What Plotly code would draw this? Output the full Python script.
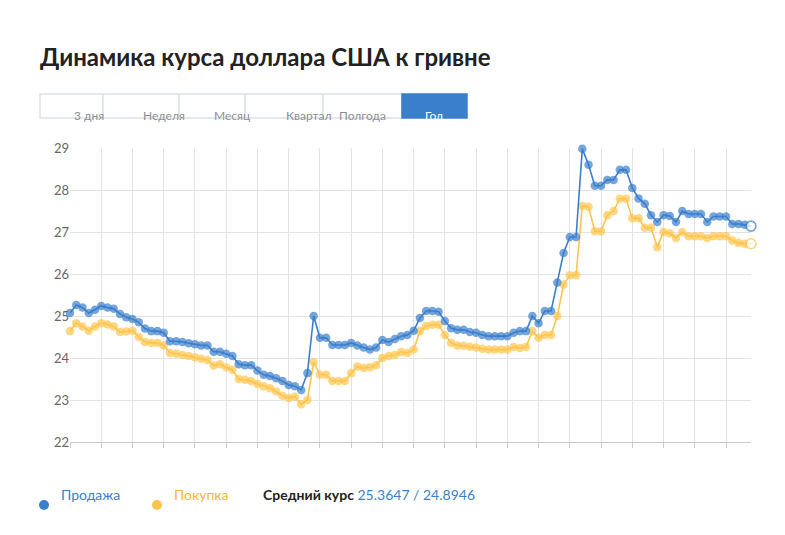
import plotly.graph_objects as go

sale = [25.07,25.26,25.2,25.07,25.15,25.24,25.2,25.17,25.05,24.97,
        24.93,24.85,24.7,24.64,24.64,24.6,24.4,24.4,24.38,24.35,
        24.33,24.3,24.3,24.15,24.15,24.1,24.05,23.85,23.83,23.83,
        23.7,23.6,23.57,23.52,23.45,23.36,23.33,23.24,23.64,25.0,
        24.48,24.48,24.31,24.31,24.31,24.36,24.3,24.25,24.2,24.25,
        24.43,24.38,24.45,24.52,24.55,24.65,24.95,25.12,25.12,25.1,
        24.88,24.71,24.67,24.67,24.62,24.6,24.55,24.52,24.52,24.52,
        24.52,24.6,24.64,24.64,25.0,24.83,25.12,25.12,25.8,26.5,
        26.88,26.88,28.98,28.6,28.1,28.1,28.24,28.24,28.48,28.48,
        28.05,27.8,27.67,27.4,27.24,27.4,27.38,27.24,27.5,27.43,
        27.43,27.43,27.24,27.37,27.37,27.37,27.19,27.19,27.17,27.14]
buy = [24.64,24.83,24.75,24.65,24.75,24.83,24.8,24.75,24.62,24.63,
       24.65,24.5,24.38,24.36,24.36,24.3,24.12,24.1,24.07,24.05,
       24.02,23.98,23.95,23.82,23.85,23.78,23.72,23.5,23.48,23.45,
       23.38,23.33,23.28,23.2,23.1,23.05,23.08,22.9,23.0,23.9,
       23.6,23.6,23.45,23.45,23.45,23.64,23.8,23.76,23.78,23.83,
       24.0,24.05,24.07,24.14,24.12,24.2,24.64,24.76,24.79,24.79,
       24.55,24.36,24.3,24.29,24.27,24.25,24.22,24.2,24.2,24.2,
       24.2,24.26,24.24,24.26,24.64,24.48,24.55,24.55,25.0,25.75,
       25.97,25.97,27.62,27.6,27.02,27.02,27.4,27.5,27.79,27.79,
       27.33,27.33,27.1,27.1,26.64,27.0,26.97,26.86,27.0,26.9,
       26.9,26.9,26.86,26.9,26.9,26.9,26.8,26.74,26.72,26.72]
x = list(range(len(sale)))
periods = ["3 дня", "Неделя", "Месяц", "Квартал", "Полгода", "Год"]
y_ticks = [22, 23, 24, 25, 26, 27, 28, 29]
avg_text = "25.3647 / 24.8946"

BLUE = "#3A7FCC"
YEL = "#FFC44D"
FONT = "Lato, Open Sans, sans-serif"

fig = go.Figure()
for vals, col, name in [(buy, YEL, "Покупка"), (sale, BLUE, "Продажа")]:
    n = len(vals)
    fig.add_trace(go.Scatter(
        x=x, y=vals, mode="lines+markers", name=name, cliponaxis=False,
        line=dict(color=col, width=1.6),
        marker=dict(size=[8.5] * (n - 1) + [10], color=[col] * (n - 1) + ["white"],
                    line=dict(color=col, width=[0] * (n - 1) + [1.6])),
        showlegend=False))

L, R, T, B = 62, 743, 140, 434
W, H = R - L, B - T
def px(v): return (v - L) / W
def py(v): return (B - v) / H

shapes, ann = [], []
edges = [32, 95, 171, 237, 315, 394, 459]
for i, p in enumerate(periods):
    active = p == "Год"
    shapes.append(dict(type="rect", xref="paper", yref="paper",
                       x0=px(edges[i]), x1=px(edges[i + 1]), y0=py(110), y1=py(86),
                       fillcolor=BLUE if active else "white",
                       line=dict(color=BLUE if active else "#DDE1E6", width=1.5)))
    ann.append(dict(xref="paper", yref="paper", x=px((edges[i] + edges[i + 1]) / 2), y=py(98),
                    text=p, showarrow=False,
                    font=dict(family=FONT, size=12, color="white" if active else "#8A8F96")))

ann.append(dict(xref="paper", yref="paper", x=px(30), y=py(32), xanchor="left",
                text="<b>Динамика курса доллара США к гривне</b>", showarrow=False,
                font=dict(family=FONT, size=24, color="#222222")))
for cx, col, txt, tcol in [(36, BLUE, "Продажа", BLUE), (149, YEL, "Покупка", "#F5B53B")]:
    shapes.append(dict(type="circle", xref="paper", yref="paper",
                       x0=px(cx - 5), x1=px(cx + 5), y0=py(502), y1=py(492),
                       fillcolor=col, line=dict(width=0)))
    ann.append(dict(xref="paper", yref="paper", x=px(cx + 15), y=py(497), xanchor="left",
                    text=txt, showarrow=False, font=dict(family=FONT, size=14, color=tcol)))
ann.append(dict(xref="paper", yref="paper", x=px(253), y=py(497), xanchor="left",
                text="<b>Средний курс</b> <span style='color:%s'>%s</span>" % (BLUE, avg_text),
                showarrow=False, font=dict(family=FONT, size=14, color="#222222")))

fig.update_layout(
    width=785, height=535, paper_bgcolor="white", plot_bgcolor="white",
    margin=dict(l=L, r=785 - R, t=T, b=535 - B, autoexpand=False),
    shapes=shapes, annotations=ann,
    xaxis=dict(range=[0, len(sale) - 1], tick0=0, dtick=5, showticklabels=False,
               showgrid=True, gridcolor="#E3E3E3", gridwidth=1, zeroline=False,
               ticks="outside", ticklen=5, tickcolor="#CCCCCC",
               showline=True, linecolor="#CCCCCC", linewidth=1),
    yaxis=dict(range=[22, 29], tickvals=y_ticks, showgrid=True, gridcolor="#E3E3E3",
               zeroline=False, ticks="", tickfont=dict(family=FONT, size=13, color="#666666")),
)
fig.write_html("out.html")
